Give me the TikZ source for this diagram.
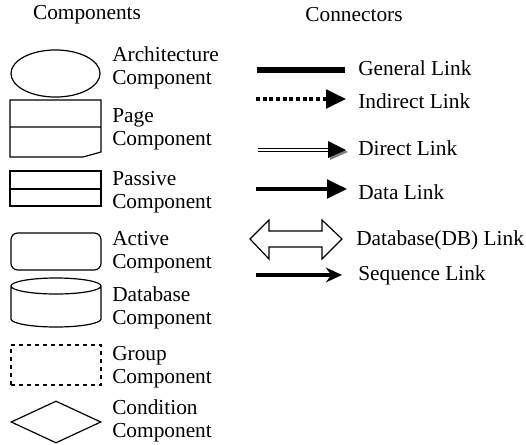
\documentclass[tikz,border=0pt]{standalone}
\usepackage{fontspec}
\setmainfont{Liberation Serif}
\usetikzlibrary{shapes.geometric,arrows.meta}
\begin{document}
\begin{tikzpicture}[x=0.75pt,y=-0.75pt,
    every node/.style={font=\fontsize{16}{17.5}\selectfont},
    caption/.style={anchor=west, align=left, inner sep=0pt},
    comp/.style={draw, line width=0.9pt, inner sep=0pt},
    link/.style={line width=2.6pt},
    head/.style={-{Triangle[length=15pt,width=14pt]}}
]
\useasboundingbox (0,0) rectangle (526,444);

% headers
\node (hcomp) at (87,15) {Components};
\node (hconn) at (354,15) {Connectors};

% components
\node[comp, ellipse, minimum width=66.8pt, minimum height=35.3pt] (arch) at (55.5,73.5) {};
\node[caption] (tarch) at (112,68) {Architecture\\Component};

\draw[line width=0.9pt] (10,100) -- (101,100) -- (101,152) -- (83,157) -- (10,157) -- cycle
    (10,127) -- (101,127);
\node[caption] (tpage) at (112,129) {Page\\Component};

\draw[line width=0.9pt] (10,171) rectangle (101,206) (10,189) -- (101,189);
\node[caption] (tpass) at (112,192) {Passive\\Component};

\node[comp, rounded corners=5pt, minimum width=67.5pt, minimum height=27.75pt] (active) at (56,251.5) {};
\node[caption] (tact) at (112,252) {Active\\Component};

\draw[line width=0.9pt] (11,286) -- (11,319) arc[start angle=180, end angle=360, x radius=33.75pt, y radius=6pt]
    -- (101,286) (56,286) ellipse[x radius=33.75pt, y radius=6pt];
\node[caption] (tdb) at (112,308) {Database\\Component};

\node[comp, dashed, minimum width=67.5pt, minimum height=30pt] (group) at (56,365) {};
\node[caption] (tgroup) at (112,367) {Group\\Component};

\node[comp, diamond, aspect=2.14, minimum width=67.5pt, minimum height=31.5pt] (cond) at (56,422) {};
\node[caption] (tcond) at (112,421) {Condition\\Component};

% connectors
\coordinate (g1) at (257,70);  \coordinate (g2) at (345,70);
\draw[line width=4.2pt] (g1) -- (g2);
\node[caption] (tgen) at (358,68) {General Link};

\coordinate (i1) at (256,99);  \coordinate (i2) at (346,99);
\draw[link, dash pattern=on 3pt off 2pt, head] (i1) -- (i2);
\node[caption] (tind) at (358,101) {Indirect Link};

\coordinate (d1) at (258,150); \coordinate (d2) at (346,150);
\fill[gray] (330,142) -- (348,152) -- (330,160) -- cycle;
\draw[double, double distance=1.3pt, line width=1.2pt] (d1) -- (333,150);
\fill (328,141) -- (d2) -- (328,158) -- cycle;
\node[caption] (tdir) at (358,148) {Direct Link};

\coordinate (a1) at (256,189); \coordinate (a2) at (347,189);
\draw[link, head] (a1) -- (a2);
\node[caption] (tdata) at (358,192) {Data Link};

\draw[line width=0.9pt, line join=miter] (250,239) -- (269,220) -- (269,231) -- (322,231) -- (322,220)
    -- (342,239) -- (322,259) -- (322,247) -- (269,247) -- (269,259) -- cycle;
\node[caption] (tdblink) at (356,240) {Database(DB) Link};

\coordinate (s1) at (256,275); \coordinate (s2) at (342,275);
\draw[line width=2.6pt, -{Stealth[length=12pt,width=11pt]}] (s1) -- (s2);
\node[caption] (tseq) at (358,275) {Sequence Link};

\end{tikzpicture}
\end{document}
